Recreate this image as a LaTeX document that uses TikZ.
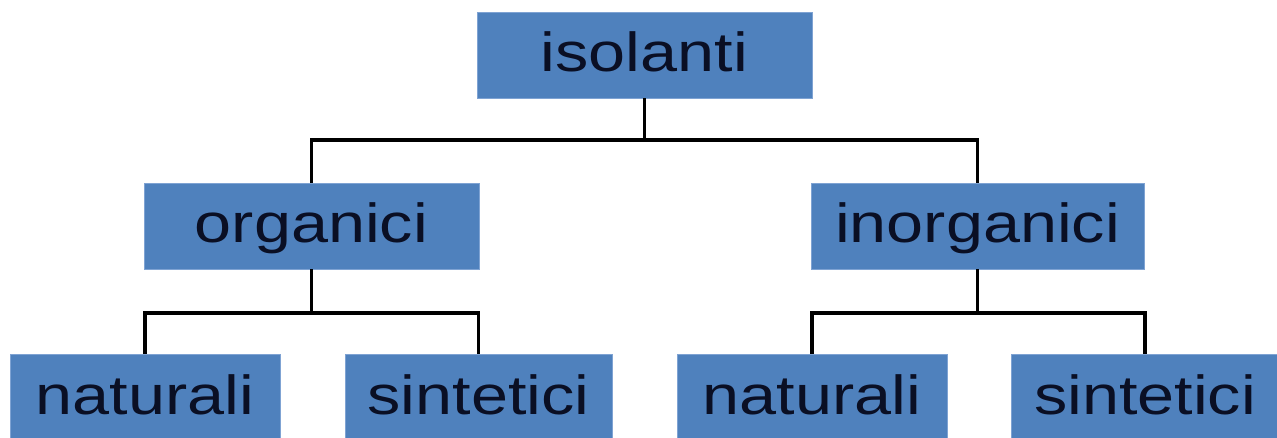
\documentclass[tikz,border=0pt]{standalone}
\usepackage{fontspec}
\setmainfont{Liberation Sans}
\definecolor{boxblue}{HTML}{4F81BD}
\definecolor{boxedge}{HTML}{7FA3D3}
\definecolor{txt}{HTML}{0A0F24}
\begin{document}
\begin{tikzpicture}[x=1pt,y=-1pt,
  box/.style={fill=boxblue,draw=boxedge,line width=0.8pt,inner sep=0pt,
    minimum height=86pt,text height=39pt,text depth=5pt,
    font=\fontsize{55}{60}\selectfont,text=txt},
  wire/.style={draw=black,line width=3.4pt}]
\useasboundingbox (0,0) rectangle (1277,438);
\begin{scope}
\clip (0,0) rectangle (1277,438);
\node[box,minimum width=335pt] (iso) at (644.5,55) {\scalebox{1.21}[1]{isolanti}};
\node[box,minimum width=335pt] (org) at (311.5,226) {\scalebox{1.21}[1]{organici}};
\node[box,minimum width=333pt] (ino) at (977.5,226) {\scalebox{1.21}[1]{inorganici}};
\node[box,minimum width=270pt] (nat1) at (145,397) {\scalebox{1.21}[1]{naturali}};
\node[box,minimum width=267pt] (sin1) at (478.5,397) {\scalebox{1.21}[1]{sintetici}};
\node[box,minimum width=270pt] (nat2) at (812,397) {\scalebox{1.21}[1]{naturali}};
\node[box,minimum width=268pt] (sin2) at (1145,397) {\scalebox{1.21}[1]{sintetici}};
\coordinate (j0) at (644.5,140);
\coordinate (j1) at (311.5,313);
\coordinate (j2) at (977.5,313);
\draw[wire] (iso.south) -- (j0);
\draw[wire] (org.north) |- (j0) -| (ino.north);
\draw[wire] (org.south) -- (j1);
\draw[wire] (nat1.north) |- (j1) -| (sin1.north);
\draw[wire] (ino.south) -- (j2);
\draw[wire] (nat2.north) |- (j2) -| (sin2.north);
\end{scope}
\end{tikzpicture}
\end{document}
